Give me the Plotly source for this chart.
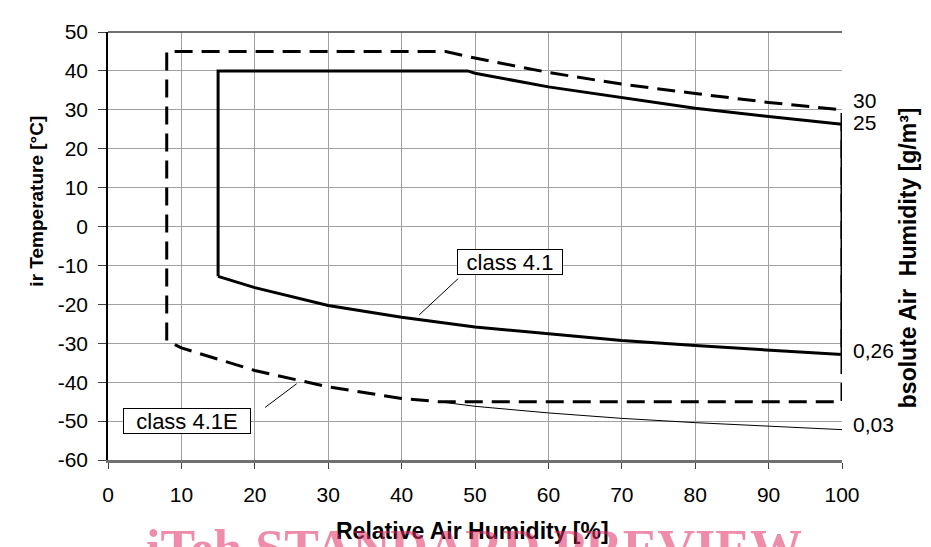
import plotly.graph_objects as go

# ---- data ----
rh_41 = [15, 15, 49, 50, 60, 70, 80, 90, 100, 100, 90, 80, 70, 60, 50, 40, 30, 20, 15]
t_41 = [-12.8, 40, 40, 39.4, 35.9, 33.1, 30.4, 28.3, 26.3, -32.9, -31.8, -30.6, -29.3,
        -27.6, -25.8, -23.3, -20.3, -15.7, -12.8]

rh_41E = [8, 8, 46, 50, 60, 70, 80, 90, 100, 100, 45, 40, 30, 20, 10, 8]
t_41E = [-29.3, 45, 45, 43.3, 39.6, 36.6, 34.2, 31.9, 30, -45, -45, -44.2, -41.2, -37.0, -31.2, -29.3]

rh_003 = [45, 50, 60, 70, 80, 90, 100]
t_003 = [-45, -46.2, -47.9, -49.3, -50.4, -51.3, -52.2]

end_labels = ["30", "25", "0,26", "0,03"]
end_label_t = [32.5, 26.8, -31.9, -51.0]

class_labels = ["class 4.1", "class 4.1E"]
class_label_x = [54.8, 10.8]
class_label_y = [-9.0, -50.1]
class_label_w = [104, 126]
pointer_x0 = [47.7, 21.4]
pointer_y0 = [-13.4, -46.5]
pointer_x1 = [42.4, 25.7]
pointer_y1 = [-22.7, -40.4]

x_ticks = list(range(0, 101, 10))
y_ticks = list(range(-60, 51, 10))

FONT = "Liberation Sans, Arial, sans-serif"

# page pixel -> paper helpers (plot area on the page: x 108..842, y 21..460)
def px_x(p):
    return (p - 108) / 734

def px_y(p):
    return (460 - p) / 439

fig = go.Figure()
fig.add_trace(go.Scatter(x=rh_41E, y=t_41E, mode="lines",
                         line=dict(color="black", width=3, dash="18px,9px"),
                         hoverinfo="skip", showlegend=False))
fig.add_trace(go.Scatter(x=rh_41, y=t_41, mode="lines",
                         line=dict(color="black", width=3),
                         hoverinfo="skip", showlegend=False))
fig.add_trace(go.Scatter(x=rh_003, y=t_003, mode="lines",
                         line=dict(color="black", width=1),
                         hoverinfo="skip", showlegend=False))

annotations = []
for txt, yv in zip(end_labels, end_label_t):
    annotations.append(dict(x=100, y=yv, xref="x", yref="y", text=txt, showarrow=False,
                            xanchor="left", yanchor="middle", xshift=9,
                            font=dict(family=FONT, size=21, color="black")))
for txt, xv, yv, w in zip(class_labels, class_label_x, class_label_y, class_label_w):
    annotations.append(dict(x=xv, y=yv, xref="x", yref="y", text=txt, showarrow=False,
                            xanchor="center", yanchor="middle", width=w, height=24,
                            bgcolor="white", bordercolor="black", borderwidth=1, borderpad=0,
                            font=dict(family=FONT, size=22, color="black")))
# axis titles
annotations.append(dict(x=px_x(37), y=px_y(195), xref="paper", yref="paper",
                        text="<b>ir Temperature [°C]</b>", textangle=-90, showarrow=False,
                        xanchor="center", yanchor="middle",
                        font=dict(family=FONT, size=19, color="black")))
annotations.append(dict(x=px_x(908), y=px_y(253), xref="paper", yref="paper",
                        text="<b>bsolute Air  Humidity [g/m³]</b>", textangle=-90, showarrow=False,
                        xanchor="center", yanchor="middle",
                        font=dict(family=FONT, size=23, color="black")))
annotations.append(dict(x=px_x(472), y=px_y(533), xref="paper", yref="paper",
                        text="<b>Relative Air Humidity [%]</b>", showarrow=False,
                        xanchor="center", yanchor="middle",
                        font=dict(family=FONT, size=23, color="black")))
# watermark
annotations.append(dict(x=px_x(474), y=px_y(519), xref="paper", yref="paper",
                        text="<b>iTeh STANDARD PREVIEW</b>", showarrow=False,
                        xanchor="center", yanchor="top",
                        font=dict(family="Liberation Serif, Times New Roman, serif", size=52,
                                  color="rgba(224,46,100,0.55)")))

shapes = []
for x0, y0, x1, y1 in zip(pointer_x0, pointer_y0, pointer_x1, pointer_y1):
    shapes.append(dict(type="line", xref="x", yref="y", x0=x0, y0=y0, x1=x1, y1=y1,
                       line=dict(color="black", width=1)))
shapes.append(dict(type="line", xref="paper", yref="paper", x0=0, x1=1, y0=1, y1=1,
                   line=dict(color="#404040", width=1.5)))

fig.update_layout(
    width=931, height=547,
    margin=dict(l=100, r=97, t=13, b=95),
    paper_bgcolor="white", plot_bgcolor="white",
    showlegend=False,
    annotations=annotations,
    shapes=shapes,
    xaxis=dict(range=[0, 100], tickvals=x_ticks, ticktext=[str(v) for v in x_ticks],
               showgrid=True, gridcolor="#a0a0a0", gridwidth=1, zeroline=False,
               showline=True, linecolor="#707070", linewidth=2.5,
               ticks="outside", ticklen=6, tickcolor="#404040", tickwidth=1,
               ticklabelstandoff=8,
               tickfont=dict(family=FONT, size=21, color="black")),
    yaxis=dict(range=[-60, 50], tickvals=y_ticks, ticktext=[str(v) for v in y_ticks],
               showgrid=True, gridcolor="#a0a0a0", gridwidth=1, zeroline=False,
               showline=True, linecolor="black", linewidth=1.5,
               ticks="outside", ticklen=8, tickcolor="#404040", tickwidth=1,
               ticklabelstandoff=6,
               tickfont=dict(family=FONT, size=21, color="black")),
)

fig.write_html("out.html")
